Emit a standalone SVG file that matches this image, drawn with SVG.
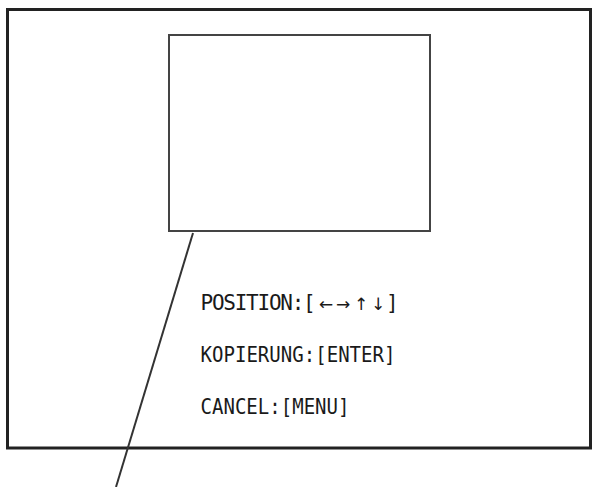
<svg xmlns="http://www.w3.org/2000/svg" width="596" height="487" viewBox="0 0 596 487">
<style>
.lbl{font-family:"DejaVu Sans Mono","Liberation Mono",monospace;font-size:21px;fill:#1a1a1a}
.arr{font-family:"DejaVu Sans","Liberation Sans",sans-serif;font-size:17px}
.outer{fill:none;stroke:#222;stroke-width:3}
.inner{fill:none;stroke:#444;stroke-width:2}
.conn{fill:none;stroke:#333;stroke-width:2}
</style>
<rect width="596" height="487" fill="#fff"/>
<g id="screen"><rect class="outer" x="7.5" y="9.5" width="583" height="438.5"/></g>
<g id="frame"><rect class="inner" x="169" y="35" width="261" height="196"/></g>
<g id="labels">
<text id="position" class="lbl" y="310" x="200.5 211.9 223.3 234.7 246.1 257.5 268.9 280.3 291.7 303 319 336 354 371 386">POSITION:[<tspan class="arr">←→↑↓</tspan>]</text>
<text id="kopierung" class="lbl" x="200.5" y="362" textLength="195" lengthAdjust="spacingAndGlyphs">KOPIERUNG:[ENTER]</text>
<text id="cancel" class="lbl" x="200.5" y="414" textLength="149" lengthAdjust="spacingAndGlyphs">CANCEL:[MENU]</text>
</g>
<g id="connectors"><line class="conn" x1="193" y1="233" x2="116" y2="487"/></g>
</svg>
